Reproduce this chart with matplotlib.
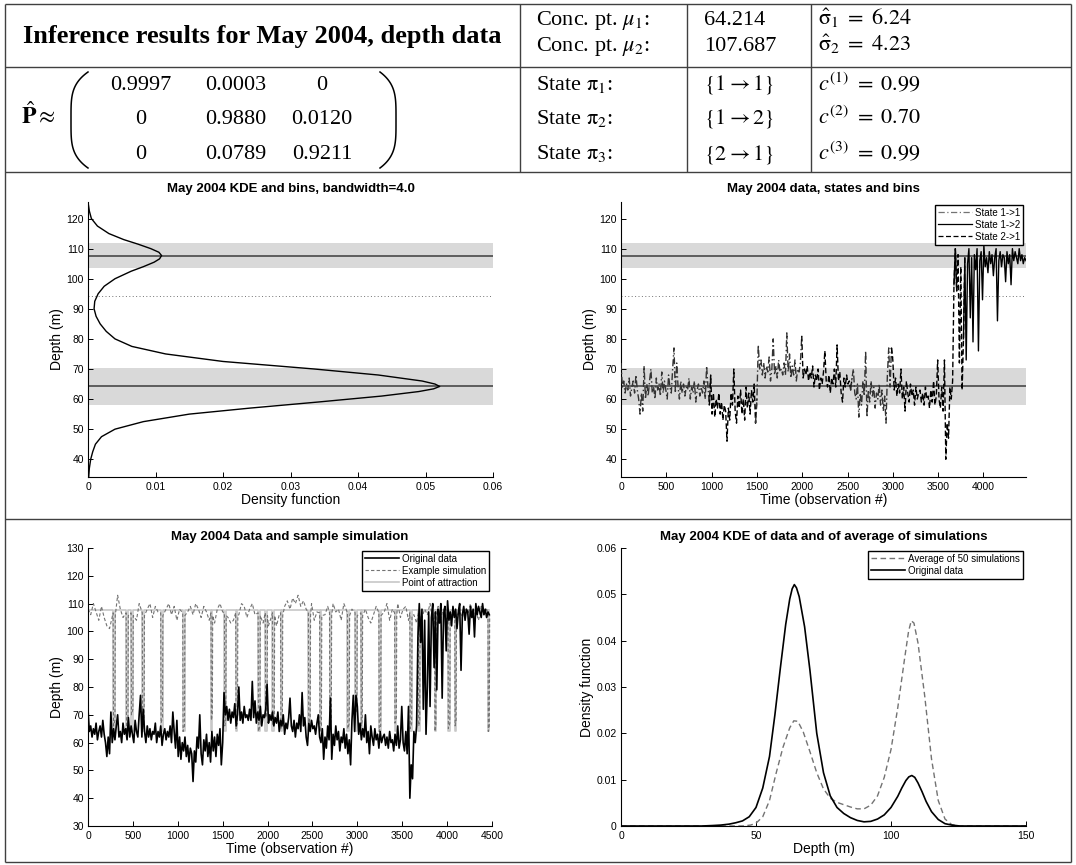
import matplotlib.pyplot as plt
import numpy as np

plt.rcParams['font.family'] = ['Liberation Sans', 'DejaVu Sans']
plt.rcParams['mathtext.fontset'] = 'stix'
plt.rcParams['axes.linewidth'] = 0.8

# --- inference results (table at the top) ---
mu = [64.214, 107.687]
sigma_hat = [6.24, 4.23]
bin_split = 94.3
P_hat = [['0.9997', '0.0003', '0'],
         ['0', '0.9880', '0.0120'],
         ['0', '0.0789', '0.9211']]
state_from_to = [(1, 1), (1, 2), (2, 1)]
c_hat = ['0.99', '0.70', '0.99']

# --- KDE of the original data (bandwidth 4.0) ---
kde_depth = [0, 30, 34, 37, 40, 42.5, 45, 47.5, 50, 52.5,
             55, 57, 59, 61, 62.5, 63.4, 64.2, 65.0, 66, 68,
             70, 72.5, 75, 77.5, 80, 82.5, 85, 87.5, 90, 92.5,
             95, 97.5, 100, 102.5, 104, 105.5, 106.6, 107.7, 108.8, 110,
             111.5, 113, 115, 117.5, 120, 122.5, 125.5, 130, 150]
kde_dens = [0, 0, 0.0001, 0.0002, 0.0004, 0.0007, 0.0011, 0.0020, 0.0040, 0.0082,
            0.0150, 0.0240, 0.0340, 0.0435, 0.0490, 0.0512, 0.0521, 0.0514, 0.0495, 0.0430,
            0.0335, 0.0200, 0.0115, 0.0065, 0.0040, 0.0027, 0.0018, 0.0012, 0.0009, 0.0010,
            0.0015, 0.0024, 0.0040, 0.0064, 0.0082, 0.0098, 0.0106, 0.0109, 0.0105, 0.0093,
            0.0074, 0.0053, 0.0031, 0.0014, 0.0005, 0.0002, 0, 0, 0]

# --- KDE of the average of 50 simulations ---
sim_kde_depth = [0, 45, 48, 50, 52.5, 55, 57.5, 60, 62.5, 64,
                 65.5, 67.5, 70, 72.5, 75, 77.5, 80, 82.5, 85, 87.5,
                 90, 92.5, 95, 97.5, 100, 102.5, 105, 106.5, 107.5, 108.5,
                 110, 112.5, 115, 117.5, 120, 122.5, 125, 150]
sim_kde_dens = [0, 0, 0.0002, 0.0006, 0.0020, 0.0055, 0.0115, 0.0170, 0.0212, 0.0227,
                0.0226, 0.0203, 0.0160, 0.0115, 0.0080, 0.0060, 0.0051, 0.0046, 0.0041, 0.0037,
                0.0037, 0.0045, 0.0065, 0.0105, 0.0165, 0.0255, 0.0360, 0.0420, 0.0443, 0.0438,
                0.0395, 0.0280, 0.0145, 0.0055, 0.0015, 0.0003, 0, 0]

# --- depth record, one reading every 15 observations ---
obs_step = 15
depth = [72, 64, 66, 62, 65, 63, 67, 61, 64, 66, 62, 68, 63, 60, 55, 62, 56, 71, 60, 65,
         61, 66, 70, 62, 64, 60, 67, 63, 65, 61, 69, 62, 66, 63, 60, 68, 64, 62, 70, 77,
         62, 72, 64, 60, 66, 62, 65, 61, 64, 63, 67, 60, 64, 62, 66, 59, 63, 65, 61, 64,
         62, 66, 60, 71, 64, 58, 68, 55, 62, 54, 60, 57, 62, 55, 59, 53, 58, 56, 46, 57,
         53, 62, 58, 70, 56, 52, 61, 57, 63, 55, 60, 53, 64, 57, 62, 55, 63, 59, 65, 52,
         60, 78, 70, 73, 68, 72, 67, 71, 69, 74, 66, 70, 80, 68, 71, 67, 73, 69, 70, 68,
         72, 68, 82, 69, 75, 67, 71, 68, 73, 66, 70, 69, 72, 81, 67, 70, 68, 71, 66, 69,
         67, 71, 64, 68, 66, 70, 63, 67, 65, 69, 76, 66, 64, 68, 62, 67, 65, 70, 64, 78,
         66, 69, 62, 59, 67, 64, 68, 65, 66, 63, 67, 70, 62, 60, 65, 54, 62, 58, 66, 61,
         76, 54, 63, 59, 66, 61, 64, 57, 62, 60, 65, 58, 63, 56, 61, 52, 68, 77, 64, 77,
         73, 63, 67, 61, 65, 62, 70, 60, 64, 56, 66, 62, 59, 65, 61, 63, 58, 64, 60, 62,
         63, 59, 62, 58, 64, 60, 61, 57, 63, 59, 66, 58, 61, 73, 60, 57, 64, 56, 73, 40,
         52, 47, 64, 60, 66, 98, 110, 96, 108, 72, 104, 63, 80, 107, 73, 105, 110, 87, 107, 79,
         108, 103, 110, 76, 106, 109, 93, 111, 104, 107, 102, 109, 105, 108, 101, 107, 110, 86, 106, 109,
         104, 108, 107, 99, 109, 105, 108, 98, 110, 106, 109, 107, 105, 110, 106, 108, 105, 107, 106]

# estimated state of each stretch: 1 = 1->1, 2 = 1->2, 3 = 2->1
seg_start = [0, 990, 1500, 2000, 2550, 3000, 3690, 3705, 3795]
seg_state = [1, 3, 1, 3, 1, 3, 2, 3, 2]
state_names = ['State 1->1', 'State 1->2', 'State 2->1']

# --- example simulation ---
sim_step = 30
sim_base = [108, 106, 110, 107, 104, 109, 105, 102, 101, 104,
            112, 113, 108, 105, 109, 103, 110, 107, 104, 110,
            109, 106, 108, 110, 105, 109, 107, 110, 104, 108,
            110, 106, 109, 104, 108, 110, 105, 107, 109, 106,
            110, 108, 105, 109, 107, 104, 101, 103, 108, 110,
            107, 110, 105, 103, 104, 108, 106, 110, 109, 105,
            108, 110, 106, 104, 100, 103, 107, 102, 105, 108,
            102, 106, 105, 109, 111, 108, 112, 110, 113, 109,
            111, 108, 106, 110, 104, 107, 103, 108, 106, 109,
            105, 110, 107, 108, 104, 110, 106, 103, 108, 107,
            110, 109, 106, 108, 105, 103, 106, 109, 108, 103,
            107, 110, 104, 108, 106, 110, 105, 108, 109, 104,
            108, 106, 103, 109, 105, 108, 106, 110, 104, 107,
            109, 105, 108, 104, 110, 106, 103, 108, 107, 105,
            108, 106, 110, 105, 107, 104, 109, 106, 108, 105]
# stretches where the point of attraction sits at mu_1
attr_low = [(280, 300), (425, 445), (480, 500), (605, 625), (810, 830), (1055, 1075),
            (1370, 1385), (1520, 1535), (1645, 1665), (1895, 1915), (1975, 1995),
            (2055, 2075), (2145, 2165), (2455, 2475), (2580, 2600), (2690, 2710),
            (2890, 2910), (2975, 2995), (3040, 3055), (3240, 3260), (3415, 3435),
            (3585, 3605), (3680, 3695), (3860, 3875), (4010, 4030), (4085, 4100), (4455, 4470)]
sim_dip = [66, 64, 70, 65, 67, 64, 68, 66, 65, 64, 69, 66, 65, 67,
           64, 66, 65, 70, 66, 64, 67, 65, 66, 64, 65, 66, 64]

W, H = 1076, 865
fig = plt.figure(figsize=(W / 100, H / 100), dpi=100)

# overlay in pixel coordinates for the table
ov = fig.add_axes([0, 0, 1, 1])
ov.set_xlim(0, W)
ov.set_ylim(H, 0)
ov.axis('off')

rule = dict(color='0.25', lw=1.0, solid_capstyle='butt')
for y in [4, 67, 172, 519, 862]:
    ov.plot([5, 1071], [y, y], **rule)
ov.plot([5, 5], [4, 862], **rule)
ov.plot([1071, 1071], [4, 862], **rule)
for x in [520, 687, 811]:
    ov.plot([x, x], [4, 172], **rule)

serif = 'Liberation Serif'
ov.text(262, 37, 'Inference results for May 2004, depth data', ha='center', va='center',
        fontsize=19, fontweight='bold', family=serif)

rows_top = [18, 44]
for i in range(2):
    yb = rows_top[i] + 7
    ov.text(536, yb, r'Conc. pt. $\mu_{%d}$:' % (i + 1), fontsize=16, family=serif, va='baseline')
    ov.text(704, yb, f'{mu[i]:.3f}', fontsize=16, family=serif, va='baseline')
    ov.text(818, yb, r'$\hat{\mathrm{\sigma}}_{%d}\ =\ %.2f$' % (i + 1, sigma_hat[i]),
            fontsize=16, va='baseline')

rows_bot = [83, 117, 152]
for i in range(3):
    yb = rows_bot[i] + 7
    a, b = state_from_to[i]
    ov.text(536, yb, r'State $\mathrm{\pi}_{%d}$:' % (i + 1), fontsize=16, family=serif, va='baseline')
    ov.text(704, yb, r'$\{%d \rightarrow %d\}$' % (a, b), fontsize=16, va='baseline')
    ov.text(818, yb, r'$c^{(%d)}\ =\ %s$' % (i + 1, c_hat[i]), fontsize=16, va='baseline')

# P-hat matrix
ov.text(21, 117 + 7, r'$\hat{\mathbf{P}} \approx$', fontsize=17, va='baseline')
col_x = [141, 236, 322]
for i in range(3):
    for j in range(3):
        ov.text(col_x[j], rows_bot[i] + 7, P_hat[i][j], ha='center', va='baseline',
                fontsize=16, family=serif)
tt = np.linspace(-1, 1, 80)
ov.plot(71 + 17 * tt ** 4, 120 + 48 * tt, color='k', lw=1.1)
ov.plot(396 - 16 * tt ** 4, 120 + 48 * tt, color='k', lw=1.1)


def px_axes(left, top, right, bottom):
    return fig.add_axes([left / W, 1 - bottom / H, (right - left) / W, (bottom - top) / H])


def matlab_style(ax):
    for s in ['top', 'right']:
        ax.spines[s].set_visible(False)
    ax.tick_params(direction='in', length=3.5, width=0.7, labelsize=7.5)
    ax.tick_params(axis='x', pad=3.5)
    ax.tick_params(axis='y', pad=3)


def bins(ax):
    for m, s in zip(mu, sigma_hat):
        ax.axhspan(m - s, m + s, color='#d9d9d9', lw=0, zorder=0)
        ax.axhline(m, color='0.33', lw=1.3, zorder=1)
    ax.axhline(bin_split, color='0.45', lw=0.7, ls=(0, (1, 2.5)), zorder=1)


leg_kw = dict(loc='upper right', fontsize=7, fancybox=False, edgecolor='k', framealpha=1,
              borderpad=0.3, labelspacing=0.2, handlelength=3.5, handletextpad=0.3,
              borderaxespad=0.3)
title_kw = dict(fontsize=9.5, fontweight='bold')
depth_ticks = list(range(40, 121, 10))
ylim_top = (34.1, 125.5)
obs = np.arange(len(depth)) * obs_step

# panel 1: KDE and bins
ax1 = px_axes(88, 202, 493, 477)
matlab_style(ax1)
bins(ax1)
ax1.plot(kde_dens, kde_depth, color='k', lw=1.0, zorder=3)
ax1.set_xlim(0, 0.06)
ax1.set_ylim(*ylim_top)
ax1.set_xticks([0, 0.01, 0.02, 0.03, 0.04, 0.05, 0.06],
               labels=['0', '0.01', '0.02', '0.03', '0.04', '0.05', '0.06'])
ax1.set_yticks(depth_ticks)
ax1.set_title('May 2004 KDE and bins, bandwidth=4.0', pad=7, **title_kw)
ax1.set_xlabel('Density function', fontsize=10, labelpad=1)
ax1.set_ylabel('Depth (m)', fontsize=10, labelpad=2)

# panel 2: data drawn by state
ax2 = px_axes(621, 202, 1026, 477)
matlab_style(ax2)
bins(ax2)
styles = {1: dict(color='0.2', ls=(0, (5, 2, 1, 2))),
          2: dict(color='k', ls='-'),
          3: dict(color='k', ls=(0, (4, 2)))}
bounds = seg_start + [obs[-1]]
for k, st in enumerate(seg_state):
    m = (obs >= bounds[k]) & (obs <= bounds[k + 1])
    idx = np.where(m)[0]
    if idx[0] > 0:
        idx = np.r_[idx[0] - 1, idx]
    ax2.plot(obs[idx], np.array(depth)[idx], lw=1.0, zorder=3, **styles[st])
handles = [plt.Line2D([], [], lw=0.9, **styles[s]) for s in (1, 2, 3)]
handles[0].set_color('0.45')
ax2.legend(handles, state_names, **leg_kw)
ax2.set_xlim(0, 4470)
ax2.set_ylim(*ylim_top)
ax2.set_xticks(range(0, 4001, 500))
ax2.set_yticks(depth_ticks)
ax2.set_title('May 2004 data, states and bins', pad=7, **title_kw)
ax2.set_xlabel('Time (observation #)', fontsize=10, labelpad=1)
ax2.set_ylabel('Depth (m)', fontsize=10, labelpad=2)

# panel 3: data and a sample simulation
ax3 = px_axes(88, 548, 492, 826)
matlab_style(ax3)
att_t, att_v = [0], [mu[1]]
for s, e in attr_low:
    att_t += [s, s, e, e]
    att_v += [mu[1], mu[0], mu[0], mu[1]]
att_t.append(obs[-1])
att_v.append(mu[1])
base_t = np.arange(len(sim_base)) * sim_step
sim_t, sim_v = [], []
for t, v in zip(base_t, sim_base):
    if not any(s - 10 <= t <= e + 10 for s, e in attr_low):
        sim_t.append(t)
        sim_v.append(v)
for (s, e), d in zip(attr_low, sim_dip):
    sim_t += [s, s + 4, e, e + 4]
    sim_v += [mu[1] - 1, d, d + 2, mu[1] - 2]
order = np.argsort(sim_t, kind='stable')
sim_t = np.array(sim_t)[order]
sim_v = np.array(sim_v)[order]
l_att, = ax3.plot(att_t, att_v, color='0.78', lw=1.2, zorder=1)
l_sim, = ax3.plot(sim_t, sim_v, color='0.45', lw=0.8, ls=(0, (3, 2)), zorder=2)
l_dat, = ax3.plot(obs, depth, color='k', lw=1.2, zorder=3)
ax3.legend([l_dat, l_sim, l_att], ['Original data', 'Example simulation', 'Point of attraction'],
           **leg_kw)
ax3.set_xlim(0, 4500)
ax3.set_ylim(30, 130)
ax3.set_xticks(range(0, 4501, 500))
ax3.set_yticks(range(30, 131, 10))
ax3.set_title('May 2004 Data and sample simulation', pad=6, **title_kw)
ax3.set_xlabel('Time (observation #)', fontsize=10, labelpad=1)
ax3.set_ylabel('Depth (m)', fontsize=10, labelpad=2)

# panel 4: KDE of data vs KDE of simulations
ax4 = px_axes(621, 548, 1026, 826)
matlab_style(ax4)
ax4.plot(sim_kde_depth, sim_kde_dens, color='0.45', lw=1.0, ls=(0, (4, 2.5)),
         label='Average of 50 simulations')
ax4.plot(kde_depth, kde_dens, color='k', lw=1.2, label='Original data')
ax4.legend(**leg_kw)
ax4.set_xlim(0, 150)
ax4.set_ylim(0, 0.06)
ax4.set_xticks([0, 50, 100, 150])
ax4.set_yticks([0, 0.01, 0.02, 0.03, 0.04, 0.05, 0.06],
               labels=['0', '0.01', '0.02', '0.03', '0.04', '0.05', '0.06'])
ax4.set_title('May 2004 KDE of data and of average of simulations', pad=6, **title_kw)
ax4.set_xlabel('Depth (m)', fontsize=10, labelpad=1)
ax4.set_ylabel('Density function', fontsize=10, labelpad=2)

fig.savefig('out.png', dpi=100)
